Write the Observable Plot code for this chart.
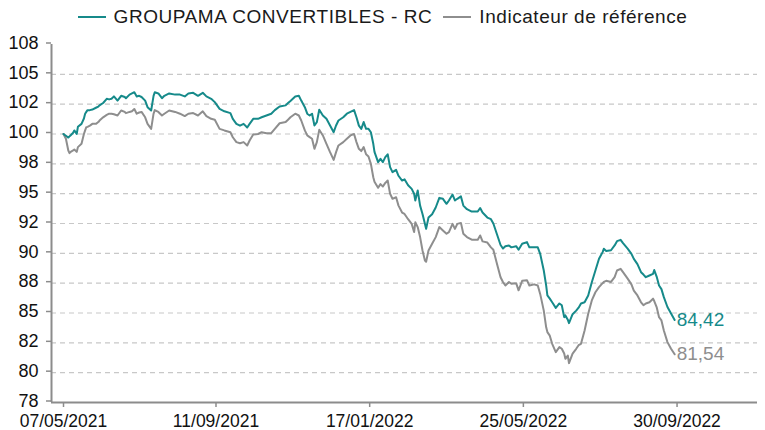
<!DOCTYPE html>
<html><head><meta charset="utf-8">
<script src="https://cdn.jsdelivr.net/npm/d3@7"></script>
<script src="https://cdn.jsdelivr.net/npm/@observablehq/plot@0.6"></script>
<style>
body{margin:0;background:#fff;font-family:"Liberation Sans",Arial,sans-serif;}
#legend{height:34px;display:flex;justify-content:center;align-items:center;font-size:19px;letter-spacing:0.55px;color:#1a1a1a;white-space:nowrap;}
.item{display:flex;align-items:center;}
.sw{width:28px;height:2.5px;margin-right:8px;}
</style></head><body>
<div id="legend"></div><div id="chart"></div>
<script>
const seriesNames = ["GROUPAMA CONVERTIBLES - RC", "Indicateur de référence"];
const seriesColors = ["#168a8a", "#8e8e8e"];

const dates = [
"2021-05-07","2021-05-09","2021-05-11","2021-05-12","2021-05-13","2021-05-15","2021-05-16","2021-05-18","2021-05-19","2021-05-22",
"2021-05-24","2021-05-25","2021-05-26","2021-05-27","2021-05-29","2021-05-31","2021-06-03","2021-06-05","2021-06-06","2021-06-09",
"2021-06-12","2021-06-14","2021-06-16","2021-06-18","2021-06-21","2021-06-24","2021-06-27","2021-06-28","2021-07-01","2021-07-03",
"2021-07-05","2021-07-07","2021-07-09","2021-07-11","2021-07-14","2021-07-16","2021-07-19","2021-07-21","2021-07-22","2021-07-25",
"2021-07-28","2021-07-30","2021-08-03","2021-08-08","2021-08-12","2021-08-16","2021-08-19","2021-08-23","2021-08-27","2021-08-31",
"2021-09-03","2021-09-07","2021-09-10","2021-09-14","2021-09-18","2021-09-23","2021-09-25","2021-09-28","2021-10-01","2021-10-04",
"2021-10-07","2021-10-09","2021-10-12","2021-10-16","2021-10-19","2021-10-23","2021-10-27","2021-10-30","2021-11-03","2021-11-08",
"2021-11-10","2021-11-12","2021-11-16","2021-11-19","2021-11-21","2021-11-24","2021-11-26","2021-11-28","2021-11-30","2021-12-02",
"2021-12-04","2021-12-06","2021-12-09","2021-12-12","2021-12-15","2021-12-18","2021-12-20","2021-12-22","2021-12-26","2021-12-29",
"2022-01-01","2022-01-04","2022-01-06","2022-01-08","2022-01-10","2022-01-12","2022-01-14","2022-01-16","2022-01-18","2022-01-20",
"2022-01-21","2022-01-24","2022-01-26","2022-01-28","2022-01-30","2022-02-01","2022-02-03","2022-02-05","2022-02-08","2022-02-10",
"2022-02-13","2022-02-15","2022-02-18","2022-02-21","2022-02-23","2022-02-24","2022-02-26","2022-02-28","2022-03-02","2022-03-04",
"2022-03-05","2022-03-07","2022-03-10","2022-03-13","2022-03-16","2022-03-19","2022-03-22","2022-03-24","2022-03-27","2022-03-29",
"2022-03-31","2022-04-03","2022-04-05","2022-04-08","2022-04-12","2022-04-17","2022-04-19","2022-04-21","2022-04-25","2022-04-28",
"2022-04-30","2022-05-03","2022-05-06","2022-05-08","2022-05-10","2022-05-13","2022-05-15","2022-05-19","2022-05-21","2022-05-24",
"2022-05-28","2022-05-30","2022-06-03","2022-06-06","2022-06-08","2022-06-11","2022-06-13","2022-06-14","2022-06-16","2022-06-18",
"2022-06-21","2022-06-24","2022-06-26","2022-06-28","2022-06-29","2022-07-01","2022-07-02","2022-07-05","2022-07-08","2022-07-10",
"2022-07-12","2022-07-15","2022-07-18","2022-07-21","2022-07-24","2022-07-27","2022-07-30","2022-07-31","2022-08-02","2022-08-06",
"2022-08-09","2022-08-11","2022-08-14","2022-08-16","2022-08-20","2022-08-23","2022-08-25","2022-08-28","2022-08-31","2022-09-02",
"2022-09-04","2022-09-07","2022-09-10","2022-09-11","2022-09-13","2022-09-15","2022-09-17","2022-09-19","2022-09-22","2022-09-25",
"2022-09-28"];

const fund = [
100.0,99.85,99.7,99.8,99.9,100.1,100.3,100.0,100.6,100.85,
101.3,101.7,101.85,102.0,102.0,102.05,102.2,102.3,102.4,102.6,
102.95,102.9,102.95,103.15,102.8,103.2,103.1,103.0,103.3,103.4,
103.5,103.15,103.2,103.1,102.8,102.25,101.97,103.2,103.5,103.4,
103.0,103.2,103.4,103.3,103.3,103.15,103.4,103.45,103.2,103.45,
103.15,102.95,102.67,102.1,101.9,101.75,101.27,100.85,100.7,100.85,
100.55,100.85,101.27,101.27,101.4,101.55,101.7,102.0,102.3,102.4,
102.6,102.77,103.14,103.2,102.8,102.25,101.7,101.55,101.7,100.71,
101.0,102.03,101.55,101.27,100.71,100.15,100.71,101.13,101.4,101.7,
101.85,102.0,101.4,100.7,100.43,101.0,100.43,100.43,100.15,99.18,
98.5,97.64,97.92,97.64,98.06,98.3,97.22,96.8,97.0,96.5,
96.1,96.2,95.7,95.4,94.99,94.43,95.27,94.0,93.3,92.47,
92.05,93.0,93.28,93.84,94.65,94.57,94.15,94.43,94.93,94.43,
94.57,94.77,94.0,93.7,93.5,93.5,93.8,93.42,93.0,92.86,
92.5,91.6,90.7,90.4,90.6,90.66,90.5,90.6,90.3,90.8,
90.94,90.5,90.5,90.5,89.96,88.56,87.3,86.47,86.2,85.9,
85.43,85.8,85.65,84.65,84.8,84.44,84.15,84.9,85.2,85.45,
85.8,85.9,86.47,87.58,88.56,89.54,90.1,90.38,90.2,90.26,
90.66,91.02,91.13,90.85,90.38,89.96,89.54,89.1,88.42,88.22,
88.0,88.14,88.28,88.6,88.05,87.3,87.0,86.33,85.5,84.95,
84.42];

const bench = [
100.0,99.6,98.62,98.4,98.5,98.62,98.7,98.5,98.9,99.18,
100.0,100.3,100.57,100.6,100.7,100.85,100.85,101.0,101.13,101.4,
101.6,101.7,101.7,101.65,101.55,101.97,101.85,101.75,101.85,101.9,
102.1,101.7,101.8,101.85,101.4,100.85,100.43,101.7,102.0,101.85,
101.55,101.7,101.97,101.85,101.7,101.5,101.7,101.75,101.55,101.9,
101.5,101.27,101.2,100.43,100.3,100.15,99.73,99.32,99.23,99.32,
99.04,99.46,99.96,100.0,100.15,100.07,100.07,100.43,100.9,101.0,
101.2,101.4,101.7,101.55,101.13,100.3,99.88,99.74,99.6,98.76,
99.32,100.35,99.88,99.18,98.48,97.83,98.48,99.04,99.32,99.6,
99.88,100.0,99.32,98.76,98.57,98.9,98.3,98.12,97.5,96.38,
96.0,95.49,95.8,95.6,95.9,96.1,94.99,94.57,94.7,94.0,
93.42,93.3,92.86,92.47,91.78,92.6,92.2,91.36,90.24,89.4,
89.3,90.24,90.8,91.36,92.2,91.92,91.64,91.78,92.47,92.05,
92.47,92.55,91.64,91.36,91.14,91.14,91.5,91.0,90.9,90.5,
90.3,89.12,88.0,87.6,87.3,87.6,87.45,87.5,86.9,87.7,
87.75,87.3,87.4,87.3,86.6,85.2,83.8,83.4,83.1,82.42,
81.72,82.14,82.0,81.6,81.16,81.44,80.8,81.6,82.0,82.3,
82.42,83.54,84.93,86.05,86.74,87.17,87.5,87.6,87.7,87.6,
88.0,88.56,88.7,88.42,87.86,87.4,86.88,86.47,85.9,85.65,
85.8,85.9,86.2,86.0,85.5,84.65,84.38,83.54,82.56,82.0,
81.54];

const xDomain = ["2021-04-27", "2022-12-06"];
const xTicks = ["2021-05-07", "2021-09-11", "2022-01-17", "2022-05-25", "2022-09-30"];
const xTickLabels = ["07/05/2021", "11/09/2021", "17/01/2022", "25/05/2022", "30/09/2022"];
const yTicks = [77.5, 80, 82.5, 85, 87.5, 90, 92.5, 95, 97.5, 100, 102.5, 105, 107.5];
const yTickLabels = ["78", "80", "82", "85", "88", "90", "92", "95", "98", "100", "102", "105", "108"];

// legend
const legend = document.getElementById("legend");
seriesNames.forEach((n, i) => {
  const it = document.createElement("div");
  it.className = "item";
  it.style.marginRight = i === 0 ? "11px" : "0";
  const sw = document.createElement("span");
  sw.className = "sw";
  sw.style.background = seriesColors[i];
  const tx = document.createElement("span");
  tx.textContent = n;
  it.appendChild(sw); it.appendChild(tx);
  legend.appendChild(it);
});

const parse = s => new Date(s + "T00:00:00Z");
const xTickDates = xTicks.map(parse);
const xLabelMap = new Map(xTickDates.map((d, i) => [+d, xTickLabels[i]]));
const yLabelMap = new Map(yTicks.map((v, i) => [v, yTickLabels[i]]));

const fundRows = dates.map((d, i) => ({date: parse(d), value: fund[i]}));
const benchRows = dates.map((d, i) => ({date: parse(d), value: bench[i]}));
const lastRows = [
  {date: fundRows[fundRows.length - 1].date, value: fund[fund.length - 1], c: seriesColors[0]},
  {date: benchRows[benchRows.length - 1].date, value: bench[bench.length - 1], c: seriesColors[1]}
];

const axisGrey = "#8c8c8c";
const chart = Plot.plot({
  width: 765,
  height: 396,
  marginTop: 10,
  marginBottom: 28,
  marginLeft: 51,
  marginRight: 8,
  style: {fontFamily: '"Liberation Sans", Arial, sans-serif', fontSize: "18px", color: "#111", background: "#fff"},
  x: {type: "utc", domain: xDomain.map(parse)},
  y: {domain: [77.5, 107.5]},
  marks: [
    Plot.ruleY(yTicks.filter(v => v > 77.5 && v < 107.5), {stroke: "#c8c8c8", strokeWidth: 1.2, strokeDasharray: "5,4"}),
    Plot.axisY({ticks: yTicks, tickFormat: d => yLabelMap.get(d), tickSize: 5, tickPadding: 8, dy: -1.5, stroke: axisGrey, strokeWidth: 1.5, fill: "#111", fontSize: 18, label: null}),
    Plot.axisX({ticks: xTickDates, tickFormat: d => xLabelMap.get(+d), tickSize: 5, tickPadding: 7, stroke: axisGrey, strokeWidth: 1.5, fill: "#111", fontSize: 17.5, label: null}),
    Plot.ruleX([parse(xDomain[0])], {stroke: axisGrey, strokeWidth: 2}),
    Plot.ruleY([77.5], {stroke: axisGrey, strokeWidth: 2}),
    Plot.line(benchRows, {x: "date", y: "value", stroke: seriesColors[1], strokeWidth: 2}),
    Plot.line(fundRows, {x: "date", y: "value", stroke: seriesColors[0], strokeWidth: 2}),
    Plot.text(lastRows, {x: "date", y: "value", text: d => d.value.toFixed(2).replace(".", ","), fill: "c", dx: 2, textAnchor: "start", fontSize: 19})
  ]
});
document.getElementById("chart").appendChild(chart);
</script>
</body></html>
